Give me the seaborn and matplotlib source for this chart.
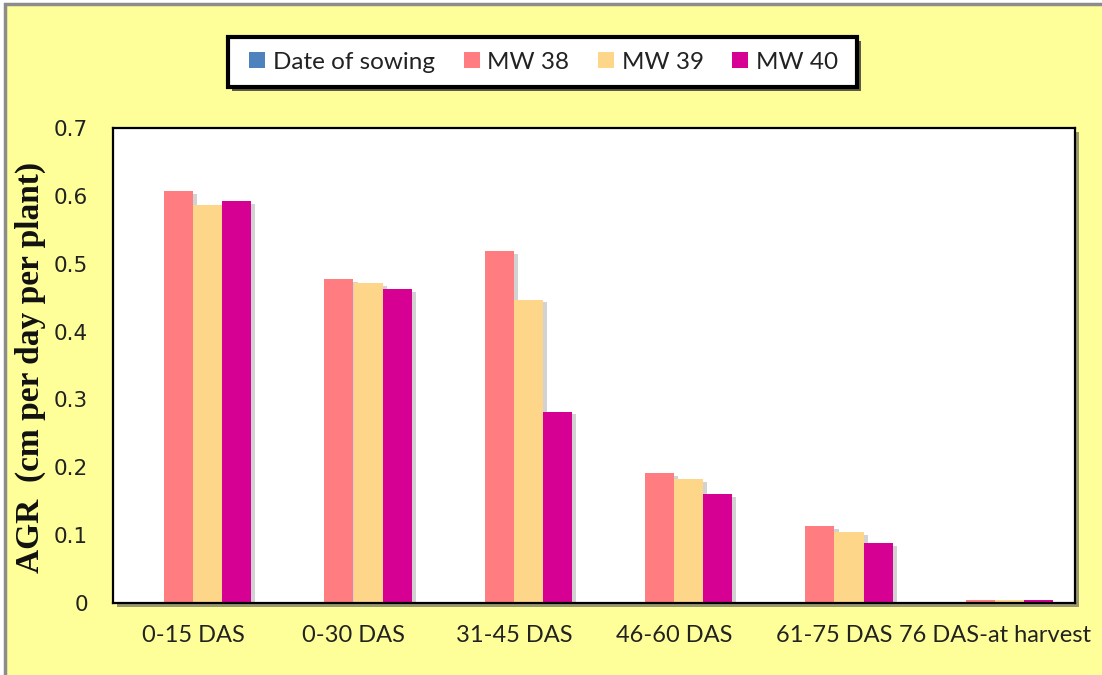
import numpy as np
import pandas as pd
import matplotlib
matplotlib.use("Agg")
import matplotlib.pyplot as plt
import matplotlib.patheffects as pe
from matplotlib.patches import Rectangle
from matplotlib.lines import Line2D
import seaborn as sns

# Growth stages and absolute growth rate per sowing week
stages = ["0-15 DAS", "0-30 DAS", "31-45 DAS", "46-60 DAS", "61-75 DAS", "76 DAS-at harvest"]
series = ["Date of sowing", "MW 38", "MW 39", "MW 40"]
date_of_sowing = [0, 0, 0, 0, 0, 0]
mw38 = [0.607, 0.477, 0.519, 0.191, 0.113, 0.004]
mw39 = [0.586, 0.471, 0.447, 0.183, 0.105, 0.004]
mw40 = [0.592, 0.463, 0.282, 0.161, 0.088, 0.004]
y_ticks = [0, 0.1, 0.2, 0.3, 0.4, 0.5, 0.6, 0.7]
y_tick_labels = ["0", "0.1", "0.2", "0.3", "0.4", "0.5", "0.6", "0.7"]

colors = ["#4F81BD", "#FF7C80", "#FDD68A", "#D60093"]

df = pd.DataFrame({
    "stage": stages * 4,
    "series": [s for s in series for _ in stages],
    "agr": date_of_sowing + mw38 + mw39 + mw40,
})

sns.set_theme(style="white")
W, H = 1102, 675
fig = plt.figure(figsize=(W / 100, H / 100), dpi=100, facecolor="white")

# chart area frame (only its top and left edges fall inside the canvas)
fig.add_artist(Rectangle((5 / W, -1.0), 3.0, 2.0 - 4 / H, transform=fig.transFigure,
                         facecolor="#FFFF99", edgecolor="#8C8C8C", linewidth=2.5, zorder=-5))

ax = fig.add_axes([113 / W, (H - 603) / H, 962 / W, 475 / H])
ax.patch.set_facecolor("white")
ax.patch.set_path_effects([pe.SimplePatchShadow(offset=(3, -3), shadow_rgbFace="#555555", alpha=0.6),
                           pe.Normal()])

sns.barplot(data=df, x="stage", y="agr", hue="series", hue_order=series, order=stages,
            palette=colors, saturation=1, width=0.725, errorbar=None, legend=False,
            linewidth=0, ax=ax)

for bar in ax.patches:
    bar.set_path_effects([pe.SimplePatchShadow(offset=(3, -2), shadow_rgbFace="#808080", alpha=0.35),
                          pe.Normal()])

ax.set_ylim(0, 0.7)
ax.set_xlim(-0.5, len(stages) - 0.5)
ax.set_yticks(y_ticks)
ax.set_yticklabels(y_tick_labels, fontfamily="DejaVu Sans", fontsize=15.5, color="#222222")
ax.set_xticks(range(len(stages)))
ax.set_xticklabels(stages, fontfamily="Lato", fontsize=17, color="#222222")
ax.tick_params(axis="y", length=0, pad=18)
ax.tick_params(axis="x", length=0, pad=16)
ax.set_xlabel("")
ax.set_ylabel("")
for sp in ax.spines.values():
    sp.set_visible(True)
    sp.set_color("black")
    sp.set_linewidth(1.6)

fig.text(30 / W, 1 - 367 / H, "AGR  (cm per day per plant)", rotation=90, ha="center", va="center",
         fontfamily="Liberation Serif", fontweight="bold", fontsize=24, color="#111111")

# legend box with its own frame and drop shadow
box = Rectangle((228 / W, 1 - 87 / H), (857 - 228) / W, 50 / H, transform=fig.transFigure,
                facecolor="white", edgecolor="black", linewidth=3, zorder=4)
box.set_path_effects([pe.SimplePatchShadow(offset=(3, -3), shadow_rgbFace="#333333", alpha=0.8),
                      pe.Normal()])
fig.add_artist(box)

handles = [Line2D([], [], linestyle="none", marker="s", markersize=11.5, markerfacecolor=c,
                  markeredgewidth=0) for c in colors]
leg = fig.legend(handles, series, loc="center", bbox_to_anchor=(544 / W, 1 - 62 / H), ncol=4,
                 frameon=False, prop={"family": "Lato", "size": 17.5}, handlelength=0.6,
                 handletextpad=0.35, columnspacing=1.2, borderpad=0.3, borderaxespad=0)
leg.set_zorder(5)
for t in leg.get_texts():
    t.set_color("#222222")

fig.savefig("out.png", dpi=100, facecolor=fig.get_facecolor())
